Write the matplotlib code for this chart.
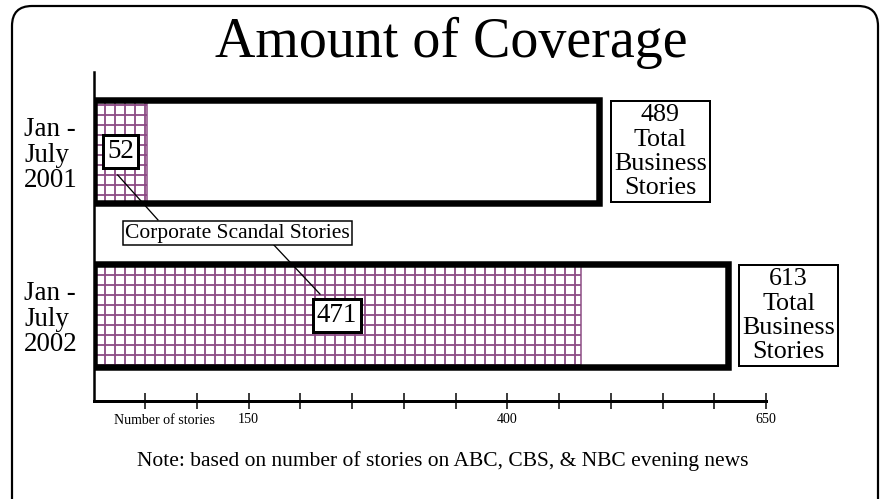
import matplotlib
matplotlib.use('Agg')
import matplotlib.pyplot as plt
from matplotlib.patches import FancyBboxPatch

# ---------------- data ----------------
periods = ['Jan -\nJuly\n2001', 'Jan -\nJuly\n2002']
total_stories = [489, 613]
scandal_stories = [52, 471]
tick_values = list(range(50, 651, 50))
labeled_ticks = [150, 400, 650]
scandal_label = 'Corporate Scandal Stories'
axis_label = 'Number of stories'
title = 'Amount of Coverage'
note = 'Note: based on number of stories on ABC, CBS, & NBC evening news'

# ---------------- style ----------------
DPI = 120
W, H = 887, 499


def pt(p):
    """pixels -> points"""
    return p * 72.0 / DPI


purple = '#8c4a84'
plt.rcParams['font.family'] = ['Liberation Serif', 'DejaVu Serif']
plt.rcParams['hatch.linewidth'] = pt(1.8)

fig = plt.figure(figsize=(W / DPI, H / DPI), dpi=DPI)

# background (pixel-space) axes for frame, title and note
bg = fig.add_axes([0, 0, 1, 1])
bg.set_xlim(0, W)
bg.set_ylim(H, 0)
bg.axis('off')
frame = FancyBboxPatch((12, 6), 866, 540, boxstyle='round,pad=0,rounding_size=20',
                       fc='white', ec='black', lw=pt(2.2))
bg.add_patch(frame)
bg.text(451.5, 43, title, ha='center', va='center', fontsize=pt(56))
bg.text(442.5, 461, note, ha='center', va='center', fontsize=pt(21.5))

# main axes
ax = fig.add_axes([93.5 / W, 1 - 401 / H, (766 - 93.5) / W, (401 - 72) / H])
ax.set_facecolor('none')
ypos = [1, 0]
bar_h = 103 / 164
ax.barh(ypos, total_stories, height=bar_h, color='white', edgecolor='none', zorder=1)
ax.barh(ypos, scandal_stories, height=bar_h, color='white', edgecolor=purple,
        hatch='++', linewidth=pt(1.5), zorder=2)
ax.barh(ypos, total_stories, height=bar_h, fill=False, edgecolor='black',
        linewidth=pt(6.5), zorder=3)
ax.set_xlim(0, 650)
ax.set_ylim(-0.521, 1.485)

for s in ['top', 'right']:
    ax.spines[s].set_visible(False)
ax.spines['left'].set_linewidth(pt(2.5))
ax.spines['bottom'].set_linewidth(pt(3))

ax.set_xticks(tick_values)
ax.set_xticklabels([str(v) if v in labeled_ticks else '' for v in tick_values])
ax.tick_params(axis='x', direction='inout', length=pt(16), width=pt(1.5),
               pad=pt(4), labelsize=pt(14))
ax.text(69, -0.521 - 13 * 0.0060973, axis_label, ha='center', va='top',
        fontsize=pt(14))

ax.set_yticks(ypos)
ax.set_yticklabels(periods, fontsize=pt(27), linespacing=1.05)
ax.tick_params(axis='y', length=0, pad=pt(69.5))
for lab in ax.get_yticklabels():
    lab.set_ha('left')

# value labels on scandal bars
for y, v in zip(ypos, scandal_stories):
    ax.text(v / 2, y, str(v), ha='center', va='center', fontsize=pt(27), zorder=6,
            bbox=dict(boxstyle='square,pad=0.14', fc='white', ec='black', lw=pt(3)))

# total labels
for y, v in zip(ypos, total_stories):
    ax.annotate(f'{v}\nTotal\nBusiness\nStories', xy=(v, y), xytext=(pt(61), 0),
                textcoords='offset points', ha='center', va='center',
                fontsize=pt(26), linespacing=1.12, annotation_clip=False,
                bbox=dict(boxstyle='square,pad=0.12', fc='white', ec='black', lw=pt(2)))

# category label + leader lines
ax.text(139.2, 0.503, scandal_label, ha='center', va='center', fontsize=pt(21.5), zorder=6,
        bbox=dict(boxstyle='square,pad=0.1', fc='white', ec='black', lw=pt(1.5)))
ax.plot([23.4, 62.3], [0.857, 0.583], color='black', lw=pt(1.3), zorder=5)
ax.plot([173.5, 218.9], [0.436, 0.131], color='black', lw=pt(1.3), zorder=5)

fig.savefig('out.png', dpi=DPI)
